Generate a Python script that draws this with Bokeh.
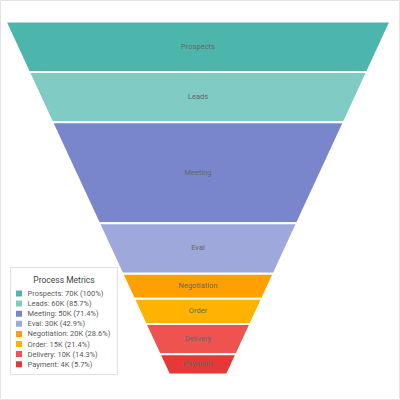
from bokeh.plotting import figure
from bokeh.models import Range1d, ColumnDataSource
from bokeh.core.properties import value
from bokeh.embed import file_html
from bokeh.resources import INLINE

stages = ["Prospects", "Leads", "Meeting", "Eval", "Negotiation", "Order", "Delivery", "Payment"]
values_k = [70, 60, 50, 30, 20, 15, 10, 4]
colors = ["#4db6ac", "#80cbc4", "#7986cb", "#9fa8da", "#ffa000", "#ffb300", "#ef5350", "#e53935"]
legend_title = "Process Metrics"

W = H = 400
p = figure(width=W, height=H, output_backend="svg", toolbar_location=None,
           x_range=Range1d(0, W), y_range=Range1d(H, 0), min_border=0)
p.axis.visible = False
p.grid.visible = False
p.outline_line_color = "#e3e3e3"
p.outline_line_width = 1
p.background_fill_color = "white"
p.border_fill_color = "white"

FONT = "Roboto"

# funnel geometry (pixel-space scales)
vmax = max(values_k)
top_y, bot_y = 21.0, 374.0
sy = (bot_y - top_y) / vmax
cx = 197.5
top_w, neck_w = 385.0, 58.0

def y_of(v):
    return top_y + (vmax - v) * sy

def hw_of(v):
    return (neck_w + (top_w - neck_w) * v / vmax) / 2

xs, ys, lx, ly = [], [], [], []
nxt = values_k[1:] + [0]
for v0, v1 in zip(values_k, nxt):
    y0, y1 = y_of(v0), y_of(v1)
    h0, h1 = hw_of(v0), hw_of(v1)
    xs.append([cx - h0, cx + h0, cx + h1, cx - h1])
    ys.append([y0, y0, y1, y1])
    lx.append(cx)
    ly.append((y0 + y1) / 2 - 0.5)

src = ColumnDataSource(dict(xs=xs, ys=ys, color=colors, lx=lx, ly=ly, name=stages))
p.patches("xs", "ys", source=src, fill_color="color", line_color="white", line_width=2)
p.text("lx", "ly", text="name", source=src, text_align="center", text_baseline="middle",
       text_font=value(FONT), text_font_size="7.5px", text_color="#666666")

# legend (drawn manually)
lg_left, lg_right, lg_top, lg_bot = 10.0, 117.0, 267.0, 374.0
p.quad(left=lg_left, right=lg_right, top=lg_top, bottom=lg_bot,
       fill_color="white", line_color="#e0e0e0", line_width=1)
p.text(x=[(lg_left + lg_right) / 2], y=[279], text=[legend_title], text_align="center",
       text_baseline="middle", text_font=value(FONT), text_font_size="8.5px", text_color="#444444")

labels = []
for s, v in zip(stages, values_k):
    pct = v / vmax * 100
    pct_s = "100%" if abs(pct - 100) < 1e-9 else f"{pct:.1f}%"
    labels.append(f"{s}: {v}K ({pct_s})")
item_y = [293 + 10.1 * i for i in range(len(stages))]
lsrc = ColumnDataSource(dict(x=[18.5] * len(stages), tx=[27] * len(stages), y=item_y,
                             color=colors, label=labels))
p.scatter("x", "y", source=lsrc, marker="square", size=6, fill_color="color", line_color=None)
p.text("tx", "y", text="label", source=lsrc, text_align="left", text_baseline="middle",
       text_font=value(FONT), text_font_size="7.5px", text_color="#5a5a5a")

open("out.html", "w").write(file_html(p, INLINE))
